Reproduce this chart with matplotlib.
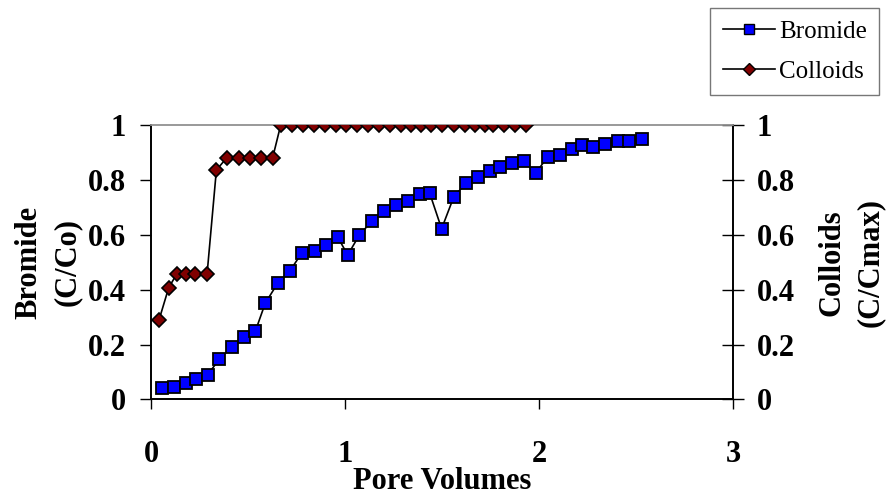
import matplotlib
matplotlib.use("Agg")
import matplotlib.pyplot as plt
from matplotlib.lines import Line2D

# Bromide breakthrough (C/Co) vs pore volumes
bromide_pv = [0.055, 0.117, 0.179, 0.232, 0.292, 0.352, 0.416, 0.478, 0.538, 0.589,
              0.653, 0.715, 0.777, 0.847, 0.902, 0.962, 1.014, 1.074, 1.139, 1.199,
              1.261, 1.323, 1.385, 1.436, 1.498, 1.560, 1.622, 1.684, 1.746, 1.799,
              1.859, 1.921, 1.983, 2.045, 2.107, 2.168, 2.220, 2.280, 2.342, 2.405,
              2.466, 2.529]
bromide_c = [0.040, 0.046, 0.061, 0.074, 0.089, 0.147, 0.191, 0.227, 0.249, 0.351,
             0.424, 0.468, 0.534, 0.542, 0.563, 0.593, 0.527, 0.600, 0.651, 0.687,
             0.710, 0.724, 0.748, 0.754, 0.623, 0.738, 0.789, 0.811, 0.833, 0.850,
             0.864, 0.870, 0.826, 0.886, 0.893, 0.913, 0.929, 0.921, 0.932, 0.943,
             0.943, 0.950]

# Colloids (C/Cmax) vs pore volumes
colloid_pv = [0.041, 0.091, 0.132, 0.180, 0.227, 0.289, 0.337, 0.390, 0.452, 0.512,
              0.567, 0.627, 0.668, 0.729, 0.782, 0.842, 0.897, 0.955, 1.007, 1.060,
              1.120, 1.174, 1.232, 1.287, 1.339, 1.390, 1.442, 1.502, 1.563, 1.617,
              1.670, 1.720, 1.765, 1.821, 1.874, 1.935]
colloid_c = [0.289, 0.407, 0.457, 0.457, 0.457, 0.457, 0.837, 0.882, 0.882, 0.882,
             0.882, 0.882, 1.0, 1.0, 1.0, 1.0, 1.0, 1.0, 1.0, 1.0,
             1.0, 1.0, 1.0, 1.0, 1.0, 1.0, 1.0, 1.0, 1.0, 1.0,
             1.0, 1.0, 1.0, 1.0, 1.0, 1.0]

x_ticks = [0, 1, 2, 3]
y_ticks = [0, 0.2, 0.4, 0.6, 0.8, 1]
y_ticklabels = ["0", "0.2", "0.4", "0.6", "0.8", "1"]

plt.rcParams["font.family"] = "Liberation Serif"
plt.rcParams["font.weight"] = "bold"
FS = 22

fig = plt.figure(figsize=(8.9, 4.98), dpi=100)
ax = fig.add_axes([151 / 890, 1 - 399.3 / 498, (733 - 151) / 890, (399.3 - 125.5) / 498])
ax2 = ax.twinx()

ax.plot(bromide_pv, bromide_c, color="black", lw=1.2, marker="s", ms=8.5,
        mfc="#0000FF", mec="black", mew=1.3, zorder=3)
ax2.plot(colloid_pv, colloid_c, color="black", lw=1.2, marker="D", ms=7.5,
         mfc="#800000", mec="black", mew=1.2, zorder=3)

for a in (ax, ax2):
    a.set_xlim(0, 3)
    a.set_ylim(0, 1)
    a.set_yticks(y_ticks)
    a.set_yticklabels(y_ticklabels, fontsize=FS, fontweight="bold")
    for s in ("left", "right", "bottom"):
        a.spines[s].set_color("black")
        a.spines[s].set_linewidth(1.2)
    a.spines["top"].set_color("#999999")
    a.spines["top"].set_linewidth(1.2)

ax.set_xticks(x_ticks)
ax.set_xticklabels([str(t) for t in x_ticks], fontsize=FS, fontweight="bold")
ax.tick_params(axis="x", direction="out", length=7, width=1, pad=22)
ax.tick_params(axis="y", direction="out", length=8, width=1, pad=10)
ax2.tick_params(axis="y", direction="inout", length=16, width=1, pad=9)

ax.set_xlabel("Pore Volumes", fontsize=FS, fontweight="bold", labelpad=-1)
ax.set_ylabel("Bromide\n(C/Co)", fontsize=FS, fontweight="bold", labelpad=4, linespacing=1.45)
ax2.set_ylabel("Colloids\n(C/Cmax)", fontsize=FS, fontweight="bold", labelpad=16.5,
               linespacing=1.4, rotation=90)

handles = [
    Line2D([], [], color="black", lw=1.2, marker="s", ms=7, mfc="#0000FF", mec="black"),
    Line2D([], [], color="black", lw=1.2, marker="D", ms=6.5, mfc="#800000", mec="black"),
]
leg = fig.legend(handles, ["Bromide", "Colloids"], loc="upper left",
                 bbox_to_anchor=(710 / 890, 1 - 8 / 498), frameon=True, fancybox=False,
                 prop={"family": "Liberation Serif", "weight": "normal", "size": 18},
                 handlelength=2.1, handletextpad=0.15, borderpad=0.5, labelspacing=0.7,
                 borderaxespad=0)
leg.get_frame().set_edgecolor("#555555")
leg.get_frame().set_linewidth(1)

fig.savefig("out.png", dpi=100)
